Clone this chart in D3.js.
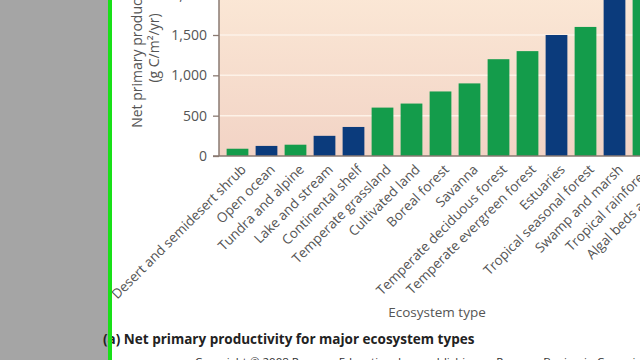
<!DOCTYPE html>
<html>
<head>
<meta charset="utf-8">
<script src="https://cdn.jsdelivr.net/npm/d3@7"></script>
<style>
	body {margin: 0; background: #fff;}
	svg {display: block;}
	text {font-family: "Open Sans", "Noto Sans", sans-serif;}
	.axis text {fill: #555;}
</style>
</head>
<body>
<div id="graphic"></div>
<script>

// ecosystem types, left to right
var categories = [
	'Desert and semidesert shrub', 'Open ocean', 'Tundra and alpine',
	'Lake and stream', 'Continental shelf', 'Temperate grassland',
	'Cultivated land', 'Boreal forest', 'Savanna',
	'Temperate deciduous forest', 'Temperate evergreen forest', 'Estuaries',
	'Tropical seasonal forest', 'Swamp and marsh', 'Tropical rainforest',
	'Algal beds and reefs'
];

// net primary productivity, g C/m2/yr
var npp = [90, 125, 140, 250, 360, 600, 650, 800, 900, 1200, 1300, 1500, 1600, 2500, 2200, 2500];

// aquatic ecosystems drawn in blue, terrestrial in green
var aquatic = [false, true, false, true, true, false, false, false, false, false, false, true, false, true, false, true];

var yTicks = [0, 500, 1000, 1500, 2000];

renderGraphic({
	container: 'graphic',
	width: 640,
	height: 360
});

function renderGraphic(config) {

	var width = config.width,
		height = config.height;

	var greenColor = '#149c4b',
		blueColor = '#0b3b7c',
		axisColor = '#8a7a72';

	// plot box (the top runs off the page)
	var plot = {left: 219, right: 687, bottom: 156, top: -10};

	var svg = d3.select('#' + config.container).append('svg')
		.attr('width', width)
		.attr('height', height);

	var defs = svg.append('defs');
	var grad = defs.append('linearGradient')
		.attr('id', 'bg-grad')
		.attr('x1', 0).attr('y1', 0).attr('x2', 0).attr('y2', 1);
	grad.append('stop').attr('offset', '0%').attr('stop-color', '#fbe8d6');
	grad.append('stop').attr('offset', '100%').attr('stop-color', '#f2d3c5');

	// grey page margin
	svg.append('rect')
		.attr('x', 0).attr('y', 0)
		.attr('width', 108).attr('height', height)
		.attr('fill', '#a5a5a5');

	var x = d3.scaleBand()
		.domain(categories)
		.range([223, plot.right])
		.paddingInner(0.25)
		.paddingOuter(0.125);

	var y = d3.scaleLinear()
		.domain([0, 1500])
		.range([plot.bottom, 35]);

	// background
	svg.append('rect')
		.attr('x', plot.left)
		.attr('y', plot.top)
		.attr('width', width - plot.left)
		.attr('height', plot.bottom - plot.top)
		.attr('fill', 'url(#bg-grad)');

	// gridlines
	svg.append('g').selectAll('line')
		.data(yTicks.filter(function(d) {return d > 0;}))
		.enter().append('line')
		.attr('x1', plot.left)
		.attr('x2', width)
		.attr('y1', function(d) {return y(d);})
		.attr('y2', function(d) {return y(d);})
		.attr('stroke', '#fdf2e8')
		.attr('stroke-width', 1.5);

	// bars
	svg.append('g').selectAll('rect')
		.data(categories)
		.enter().append('rect')
		.attr('x', function(d) {return x(d);})
		.attr('width', x.bandwidth())
		.attr('y', function(d, i) {return y(npp[i]);})
		.attr('height', function(d, i) {return y(0) - y(npp[i]);})
		.attr('fill', function(d, i) {return aquatic[i] ? blueColor : greenColor;});

	// y axis
	var yAxis = svg.append('g')
		.attr('class', 'axis axis-y')
		.attr('transform', 'translate(' + plot.left + ',0)')
		.call(d3.axisLeft(y)
			.tickValues(yTicks)
			.tickSize(6)
			.tickPadding(6)
			.tickFormat(d3.format(',')));
	yAxis.select('.domain').remove();
	yAxis.selectAll('line').attr('stroke', axisColor).attr('stroke-width', 1.3);
	yAxis.selectAll('text').style('font-size', '14px');

	svg.append('line')
		.attr('x1', plot.left).attr('x2', plot.left)
		.attr('y1', plot.top).attr('y2', plot.bottom)
		.attr('stroke', axisColor).attr('stroke-width', 1.5);
	svg.append('line')
		.attr('x1', plot.left - 6).attr('x2', width)
		.attr('y1', plot.bottom).attr('y2', plot.bottom)
		.attr('stroke', axisColor).attr('stroke-width', 1.5);

	// x labels, rotated
	svg.append('g')
		.attr('class', 'axis axis-x')
		.selectAll('text')
		.data(categories)
		.enter().append('text')
		.attr('transform', function(d) {
			return 'translate(' + (x(d) + x.bandwidth() / 2 + 6) + ',' + 167 + ') rotate(-45)';
		})
		.attr('text-anchor', 'end')
		.attr('dy', '0.35em')
		.style('font-size', '13.5px')
		.text(function(d) {return d;});

	// axis titles
	var yTitle = svg.append('text')
		.attr('class', 'axis')
		.attr('transform', 'translate(142,48) rotate(-90)')
		.attr('text-anchor', 'middle')
		.style('font-size', '14px')
		.attr('fill', '#555');
	yTitle.append('tspan').attr('x', 0).attr('dy', 0).text('Net primary productivity');
	yTitle.append('tspan').attr('x', 0).attr('dy', '1.2em').text('(g C/m\u00b2/yr)');

	svg.append('text')
		.attr('x', 437)
		.attr('y', 317)
		.attr('text-anchor', 'middle')
		.style('font-size', '13.5px')
		.attr('fill', '#555')
		.text('Ecosystem type');

	// caption
	svg.append('text')
		.attr('x', 103)
		.attr('y', 344)
		.style('font-size', '13.5px')
		.style('font-weight', 'bold')
		.attr('fill', '#222')
		.text('(a) Net primary productivity for major ecosystem types');

	svg.append('text')
		.attr('x', 195)
		.attr('y', 366)
		.style('font-size', '11.5px')
		.attr('fill', '#333')
		.text('Copyright \u00a9 2008 Pearson Education, Inc., publishing as Pearson Benjamin Cummings.');

	// green edge on top
	svg.append('rect')
		.attr('x', 108).attr('y', 0)
		.attr('width', 4).attr('height', height)
		.attr('fill', '#18e018');

} // end of renderGraphic()

</script>
</body>
</html>
